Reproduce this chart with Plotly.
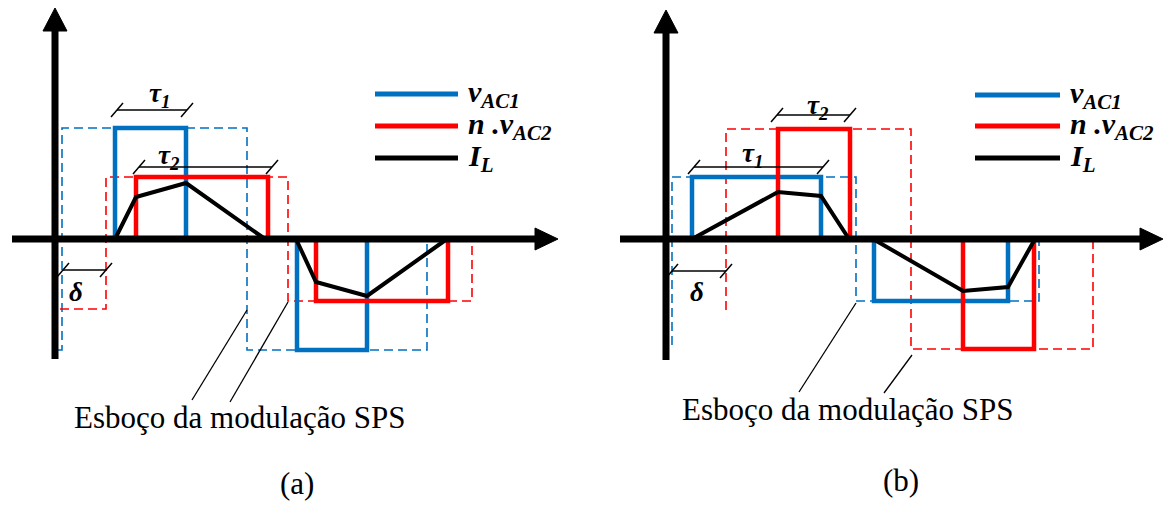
import plotly.graph_objects as go

BLUE = "#0070C0"
RED = "#FF0000"
BLACK = "#000000"
SERIF = "'Liberation Serif', 'Times New Roman', Times, serif"

# Time axis in px-like units measured from the vertical axis, amplitude upward.
# ---------------- panel (a) ----------------
a_v1_pulses = [(60, 131, 1), (242, 312, -1)]      # v_AC1 : start, end, sign
a_v1_amp = 111
a_v2_pulses = [(81, 213, 1), (261, 393, -1)]      # n.v_AC2
a_v2_amp = 62
a_il_t = [60, 81, 131, 210, None, 241, 261, 312, 392]
a_il_i = [0, 42, 56, 0, None, 0, -43, -57, 0]
a_sps1_t = [3, 7, 7, 192, 192, 372, 372]           # SPS sketch of v_AC1
a_sps1_v = [-111, -111, 111, 111, -111, -111, 0]
a_sps2_t = [5, 51, 51, 233, 233, 417, 417]         # SPS sketch of n.v_AC2
a_sps2_v = [-70, -70, 62, 62, -62, -62, 0]
a_tau1 = (62, 132, 129)
a_tau2 = (84, 217, 72)
a_delta = (8, 51, -31)

# ---------------- panel (b) ----------------
b_v1_pulses = [(26, 155, 1), (208, 342, -1)]
b_v1_amp = 62
b_v2_pulses = [(112, 184, 1), (297, 368, -1)]
b_v2_amp = 110
b_il_t = [26, 112, 155, 183, None, 207, 297, 342, 369]
b_il_i = [0, 47, 43, 0, None, 0, -52, -48, 0]
b_sps1_t = [6, 6, 190, 190, 373, 373]
b_sps1_v = [-106, 62, 62, -62, -62, 0]
b_sps2_t = [60, 60, 245, 245, 427, 427]
b_sps2_v = [-71, 110, 110, -110, -110, 0]
b_tau1 = (28, 157, 72)
b_tau2 = (111, 184, 124)
b_delta = (6, 60, -32)

legend_names = ["<b><i>v</i></b><sub><b><i>AC1</i></b></sub>",
                "<b><i>n .v</i></b><sub><b><i>AC2</i></b></sub>",
                "<b><i>I</i></b><sub><b><i>L</i></b></sub>"]
legend_colors = [BLUE, RED, BLACK]
caption = "Esboço da modulação SPS"

W, H = 1165, 506
fig = go.Figure()


def line(xs, ys, color, width, xa, dash=None):
    fig.add_trace(go.Scatter(x=xs, y=ys, mode="lines", xaxis=xa, yaxis="y",
                             line=dict(color=color, width=width, dash=dash),
                             hoverinfo="skip", showlegend=False))


def pulses(pl, amp):
    xs, ys = [], []
    for t0, t1, s in pl:
        xs += [t0, t0, t1, t1, None]
        ys += [0, s * amp, s * amp, 0, None]
    return xs, ys


def bracket(spec, xa):
    t0, t1, v = spec
    xs = [t0, t1, None, t0 - 6, t0 + 6, None, t1 - 6, t1 + 6]
    ys = [v, v, None, v - 7, v + 7, None, v - 7, v + 7]
    line(xs, ys, BLACK, 1.5, xa)


def axes(xa, x_start, x_tip, y_bottom, y_tip):
    line([0, 0], [y_bottom, y_tip - 15], BLACK, 7, xa)
    line([x_start, x_tip - 15], [0, 0], BLACK, 7, xa)
    fig.add_trace(go.Scatter(x=[-12, 12, 0, -12], y=[y_tip - 23, y_tip - 23, y_tip, y_tip - 23],
                             xaxis=xa, yaxis="y", mode="lines", fill="toself",
                             fillcolor=BLACK, line=dict(color=BLACK, width=1),
                             hoverinfo="skip", showlegend=False))
    fig.add_trace(go.Scatter(x=[x_tip - 23, x_tip - 23, x_tip, x_tip - 23], y=[-11, 11, 0, -11],
                             xaxis=xa, yaxis="y", mode="lines", fill="toself",
                             fillcolor=BLACK, line=dict(color=BLACK, width=1),
                             hoverinfo="skip", showlegend=False))


def text(xa, x, y, s, size, **kw):
    fig.add_annotation(xref=xa, yref="y", x=x, y=y, text=s, showarrow=False,
                       font=dict(family=SERIF, size=size, color=BLACK), **kw)


panels = [
    dict(xa="x", v1=(a_v1_pulses, a_v1_amp), v2=(a_v2_pulses, a_v2_amp),
         il=(a_il_t, a_il_i), s1=(a_sps1_t, a_sps1_v), s2=(a_sps2_t, a_sps2_v),
         tau1=a_tau1, tau2=a_tau2, delta=a_delta,
         ax=(-43, 503, -120, 231),
         ptr=[(192, -71, 137, -161), (233, -63, 175, -163)],
         cap=(185, -178), lab=(242, -244, "(a)"),
         leg=(320, 403, [145, 113, 81]),
         tl1=(104, 144), tl2=(114, 82), dl=(21, -53)),
    dict(xa="x2", v1=(b_v1_pulses, b_v1_amp), v2=(b_v2_pulses, b_v2_amp),
         il=(b_il_t, b_il_i), s1=(b_sps1_t, b_sps1_v), s2=(b_sps2_t, b_sps2_v),
         tau1=b_tau1, tau2=b_tau2, delta=b_delta,
         ax=(-46, 497, -121, 229),
         ptr=[(190, -64, 133, -153), (246, -116, 218, -154)],
         cap=(182, -170), lab=(235, -241, "(b)"),
         leg=(309, 394, [144, 113, 81]),
         tl1=(86, 84), tl2=(152, 132), dl=(31, -53)),
]

for p in panels:
    xa = p["xa"]
    # SPS sketches (dashed)
    line(*p["s1"], BLUE, 1.6, xa, dash="9px,5px")
    line(*p["s2"], RED, 1.6, xa, dash="9px,5px")
    # modulated waveforms
    xs, ys = pulses(*p["v1"])
    line(xs, ys, BLUE, 4.5, xa)
    xs, ys = pulses(*p["v2"])
    line(xs, ys, RED, 4.5, xa)
    line(*p["il"], BLACK, 4, xa)
    axes(xa, *p["ax"])
    # dimension brackets
    bracket(p["tau1"], xa)
    bracket(p["tau2"], xa)
    bracket(p["delta"], xa)
    text(xa, *p["tl1"], "<b><i>τ</i></b><sub><b><i>1</i></b></sub>", 27)
    text(xa, *p["tl2"], "<b><i>τ</i></b><sub><b><i>2</i></b></sub>", 27)
    text(xa, *p["dl"], "<b><i>δ</i></b>", 27)
    # pointer lines to caption
    for x0, y0, x1, y1 in p["ptr"]:
        line([x0, x1], [y0, y1], BLACK, 1.3, xa)
    text(xa, *p["cap"], caption, 31)
    text(xa, p["lab"][0], p["lab"][1], p["lab"][2], 31)
    # legend
    l0, l1, ys = p["leg"]
    for yy, c, name in zip(ys, legend_colors, legend_names):
        line([l0, l1], [yy, yy], c, 5, xa)
        text(xa, l1 + 8, yy, name, 30, xanchor="left")

hidden = dict(visible=False, showgrid=False, zeroline=False, fixedrange=True)
fig.update_layout(
    width=W, height=H, margin=dict(l=0, r=0, t=0, b=0),
    paper_bgcolor="white", plot_bgcolor="white", showlegend=False,
    xaxis=dict(domain=[0, 0.5], range=[-55, 527.5], anchor="y", **hidden),
    xaxis2=dict(domain=[0.5, 1], range=[-83.5, 499], anchor="y", **hidden),
    yaxis=dict(domain=[0, 1], range=[-267, 239], **hidden),
)

fig.write_html("out.html")
